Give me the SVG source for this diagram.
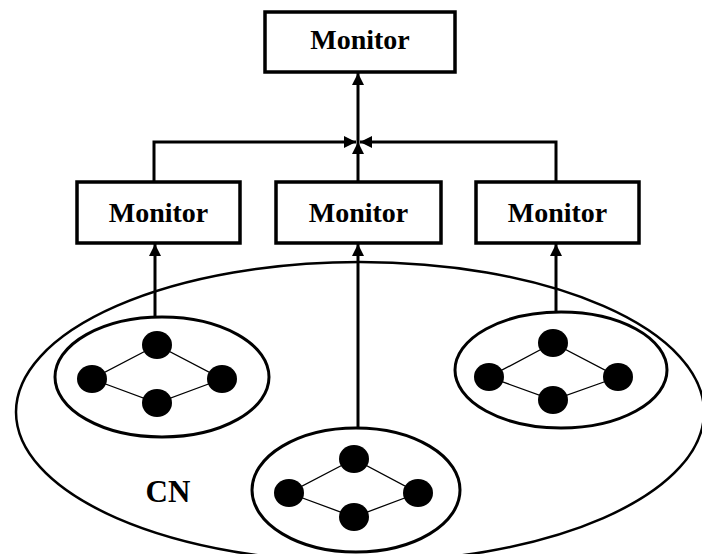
<svg xmlns="http://www.w3.org/2000/svg" width="702" height="554" viewBox="0 0 702 554">
<style>
.box{fill:#fff;stroke:#000;stroke-width:3.5}
.lbl{font-family:"Liberation Serif",serif;font-weight:bold;font-size:28px;text-anchor:middle;fill:#000}
.conn{fill:none;stroke:#000;stroke-width:3}
.cl{fill:#fff;stroke:#000;stroke-width:3}
.edge{fill:none;stroke:#000;stroke-width:1.3}
.dot{fill:#000}
</style>
<defs>
<marker id="ah" markerUnits="userSpaceOnUse" markerWidth="12" markerHeight="12" viewBox="0 0 12 12" refX="12" refY="6" orient="auto">
<path d="M0,0 L12,6 L0,12 z" fill="#000"/>
</marker>
</defs>
<rect width="702" height="554" fill="#fff"/>
<g id="cn">
<ellipse cx="360" cy="412" rx="344" ry="150" fill="none" stroke="#000" stroke-width="2.5"/>
<text x="168" y="502" font-family="Liberation Serif, serif" font-weight="bold" font-size="31" text-anchor="middle">CN</text>
</g>
<g id="connectors">
<path class="conn" d="M154,182 V142 H356" marker-end="url(#ah)"/>
<path class="conn" d="M556,182 V142 H360" marker-end="url(#ah)"/>
<path class="conn" d="M358,182 V142" marker-end="url(#ah)"/>
<path class="conn" d="M358,142 V73" marker-end="url(#ah)"/>
<path class="conn" d="M155,318 V244" marker-end="url(#ah)"/>
<path class="conn" d="M358,428 V244" marker-end="url(#ah)"/>
<path class="conn" d="M556,313 V244" marker-end="url(#ah)"/>
</g>
<g id="monitor-top"><rect class="box" x="265" y="12" width="190" height="60"/><text class="lbl" x="360" y="49">Monitor</text></g>
<g id="monitor-left"><rect class="box" x="77" y="182" width="163" height="61"/><text class="lbl" x="158.5" y="222">Monitor</text></g>
<g id="monitor-mid"><rect class="box" x="276" y="182" width="165" height="61"/><text class="lbl" x="358.5" y="222">Monitor</text></g>
<g id="monitor-right"><rect class="box" x="476" y="182" width="163" height="61"/><text class="lbl" x="557.5" y="222">Monitor</text></g>
<g id="cluster-left">
<ellipse class="cl" cx="162" cy="377" rx="107" ry="60"/>
<path class="edge" d="M157,345 L92,379 L157,403 L222,379 Z"/>
<ellipse class="dot" cx="157" cy="345" rx="15" ry="14"/>
<ellipse class="dot" cx="92" cy="379" rx="15" ry="14"/>
<ellipse class="dot" cx="222" cy="379" rx="15" ry="14"/>
<ellipse class="dot" cx="157" cy="403" rx="15" ry="14"/>
</g>
<g id="cluster-mid">
<ellipse class="cl" cx="356" cy="490" rx="104" ry="62"/>
<path class="edge" d="M354,459 L289,493 L354,517 L418,493 Z"/>
<ellipse class="dot" cx="354" cy="459" rx="15" ry="14"/>
<ellipse class="dot" cx="289" cy="493" rx="15" ry="14"/>
<ellipse class="dot" cx="418" cy="493" rx="15" ry="14"/>
<ellipse class="dot" cx="354" cy="517" rx="15" ry="14"/>
</g>
<g id="cluster-right">
<ellipse class="cl" cx="561" cy="370" rx="106" ry="58"/>
<path class="edge" d="M553,343 L489,377 L553,400 L618,377 Z"/>
<ellipse class="dot" cx="553" cy="343" rx="15" ry="14"/>
<ellipse class="dot" cx="489" cy="377" rx="15" ry="14"/>
<ellipse class="dot" cx="618" cy="377" rx="15" ry="14"/>
<ellipse class="dot" cx="553" cy="400" rx="15" ry="14"/>
</g>
</svg>
